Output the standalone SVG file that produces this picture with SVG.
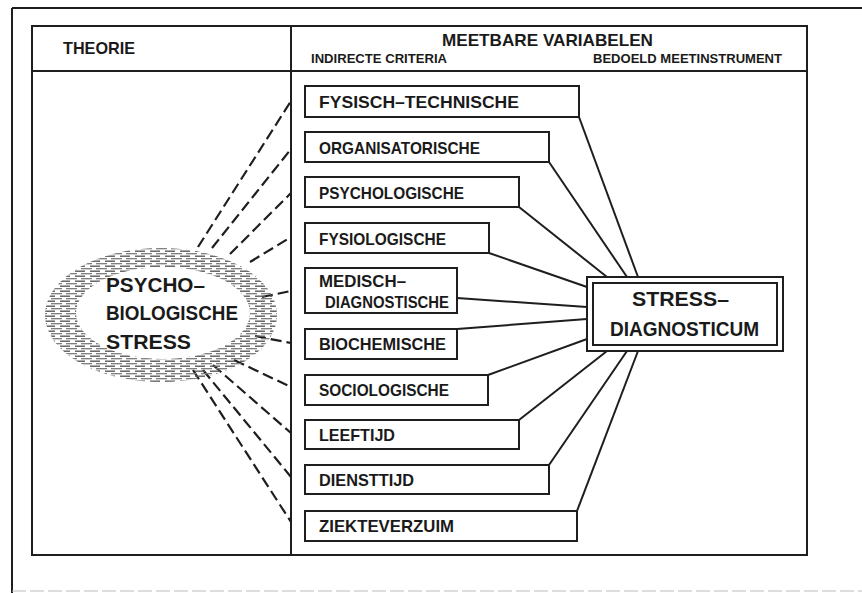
<svg xmlns="http://www.w3.org/2000/svg" width="862" height="593" viewBox="0 0 862 593">
<defs>
<pattern id="hatch" width="15" height="5" patternUnits="userSpaceOnUse">
<line x1="0" y1="1.2" x2="10" y2="1.2" stroke="#5a5a5a" stroke-width="1.4"/>
<line x1="6" y1="3.7" x2="15" y2="3.7" stroke="#7a7a7a" stroke-width="1.3"/>
<line x1="0" y1="3.7" x2="2" y2="3.7" stroke="#7a7a7a" stroke-width="1.3"/>
</pattern>
<style>
.frame{fill:none;stroke:#1e1e1e;stroke-width:2}
.box{fill:#fff;stroke:#1e1e1e;stroke-width:2}
.lbl{font-family:"Liberation Sans",Arial,sans-serif;font-weight:bold;font-size:17px;fill:#1a1a1a}
.big{font-family:"Liberation Sans",Arial,sans-serif;font-weight:bold;font-size:20px;fill:#1a1a1a}
.small{font-family:"Liberation Sans",Arial,sans-serif;font-weight:bold;font-size:12.5px;fill:#1a1a1a}
.dash{stroke:#1e1e1e;stroke-width:2.2;stroke-dasharray:11 5;fill:none}
.solid{stroke:#1e1e1e;stroke-width:2;fill:none}
</style>
</defs>
<rect width="862" height="593" fill="#fff"/>
<g id="frame">
<line x1="12" y1="8" x2="862" y2="8" class="frame"/>
<line x1="12" y1="8" x2="12" y2="593" class="frame"/>
<line x1="12" y1="591" x2="862" y2="591" stroke="#bbb" stroke-width="1.2" stroke-dasharray="14 4"/>
<rect x="32" y="26" width="775" height="529" class="frame"/>
<line x1="32" y1="71" x2="807" y2="71" class="frame"/>
<line x1="291" y1="26" x2="291" y2="555" class="frame"/>
<text x="63" y="54" class="lbl" textLength="72" lengthAdjust="spacingAndGlyphs">THEORIE</text>
<text x="442" y="46" class="lbl" font-size="17.5" textLength="211" lengthAdjust="spacingAndGlyphs">MEETBARE  VARIABELEN</text>
<text x="311" y="63" class="small" textLength="136" lengthAdjust="spacingAndGlyphs">INDIRECTE CRITERIA</text>
<text x="593" y="63" class="small" textLength="189" lengthAdjust="spacingAndGlyphs">BEDOELD MEETINSTRUMENT</text>
</g>
<g id="connectors">
<path class="dash" d="M198,247 L291,101"/>
<path class="dash" d="M212,248 L291,149"/>
<path class="dash" d="M230,254 L291,193"/>
<path class="dash" d="M250,262 L291,237"/>
<path class="dash" d="M262,297 L291,291"/>
<path class="dash" d="M255,336 L291,343"/>
<path class="dash" d="M234,360 L291,387"/>
<path class="dash" d="M213,365 L291,433"/>
<path class="dash" d="M203,370 L291,477"/>
<path class="dash" d="M193,370 L291,522"/>
<path class="solid" d="M579,117 L638,277"/>
<path class="solid" d="M549,162 L627,277"/>
<path class="solid" d="M519,207 L607,277"/>
<path class="solid" d="M489,253 L587,287"/>
<path class="solid" d="M457,298 L587,307"/>
<path class="solid" d="M457,329 L587,319"/>
<path class="solid" d="M488,375 L587,339"/>
<path class="solid" d="M519,420 L607,351"/>
<path class="solid" d="M549,465 L627,351"/>
<path class="solid" d="M577,511 L638,351"/>
</g>
<g id="cloud">
<path d="M45,315 A116,67 0 1 0 277,315 A116,67 0 1 0 45,315 Z M76,313 A87,46 0 1 1 250,313 A87,46 0 1 1 76,313 Z" fill="url(#hatch)" fill-rule="evenodd"/>
<text x="106" y="292" class="big" textLength="99" lengthAdjust="spacingAndGlyphs">PSYCHO–</text>
<text x="106" y="320" class="big" textLength="132" lengthAdjust="spacingAndGlyphs">BIOLOGISCHE</text>
<text x="106" y="349" class="big" textLength="85" lengthAdjust="spacingAndGlyphs">STRESS</text>
</g>
<g id="n1"><rect x="305" y="86" width="274" height="31" class="box"/><text x="319" y="107.5" class="lbl" textLength="200" lengthAdjust="spacingAndGlyphs">FYSISCH–TECHNISCHE</text></g>
<g id="n2"><rect x="305" y="132" width="244" height="30" class="box"/><text x="319" y="153.5" class="lbl" textLength="161" lengthAdjust="spacingAndGlyphs">ORGANISATORISCHE</text></g>
<g id="n3"><rect x="305" y="177" width="214" height="30" class="box"/><text x="319" y="198.5" class="lbl" textLength="145" lengthAdjust="spacingAndGlyphs">PSYCHOLOGISCHE</text></g>
<g id="n4"><rect x="305" y="223" width="184" height="30" class="box"/><text x="319" y="244.5" class="lbl" textLength="127" lengthAdjust="spacingAndGlyphs">FYSIOLOGISCHE</text></g>
<g id="n5"><rect x="305" y="268" width="152" height="45" class="box"/><text x="319" y="287" class="lbl" textLength="87" lengthAdjust="spacingAndGlyphs">MEDISCH–</text><text x="325" y="308" class="lbl" textLength="124" lengthAdjust="spacingAndGlyphs">DIAGNOSTISCHE</text></g>
<g id="n6"><rect x="305" y="329" width="152" height="30" class="box"/><text x="319" y="350" class="lbl" textLength="127" lengthAdjust="spacingAndGlyphs">BIOCHEMISCHE</text></g>
<g id="n7"><rect x="305" y="375" width="183" height="30" class="box"/><text x="319" y="396" class="lbl" textLength="130" lengthAdjust="spacingAndGlyphs">SOCIOLOGISCHE</text></g>
<g id="n8"><rect x="305" y="420" width="214" height="29" class="box"/><text x="319" y="441" class="lbl" textLength="76" lengthAdjust="spacingAndGlyphs">LEEFTIJD</text></g>
<g id="n9"><rect x="305" y="465" width="244" height="29" class="box"/><text x="319" y="486" class="lbl" textLength="95" lengthAdjust="spacingAndGlyphs">DIENSTTIJD</text></g>
<g id="n10"><rect x="305" y="511" width="272" height="30" class="box"/><text x="319" y="532" class="lbl" textLength="135" lengthAdjust="spacingAndGlyphs">ZIEKTEVERZUIM</text></g>
<g id="stress">
<rect x="587" y="277" width="196" height="74" class="box"/>
<rect x="593" y="283" width="184" height="62" class="box"/>
<text x="632" y="306" class="big" textLength="97" lengthAdjust="spacingAndGlyphs">STRESS–</text>
<text x="610" y="336" class="big" textLength="149" lengthAdjust="spacingAndGlyphs">DIAGNOSTICUM</text>
</g>
</svg>
